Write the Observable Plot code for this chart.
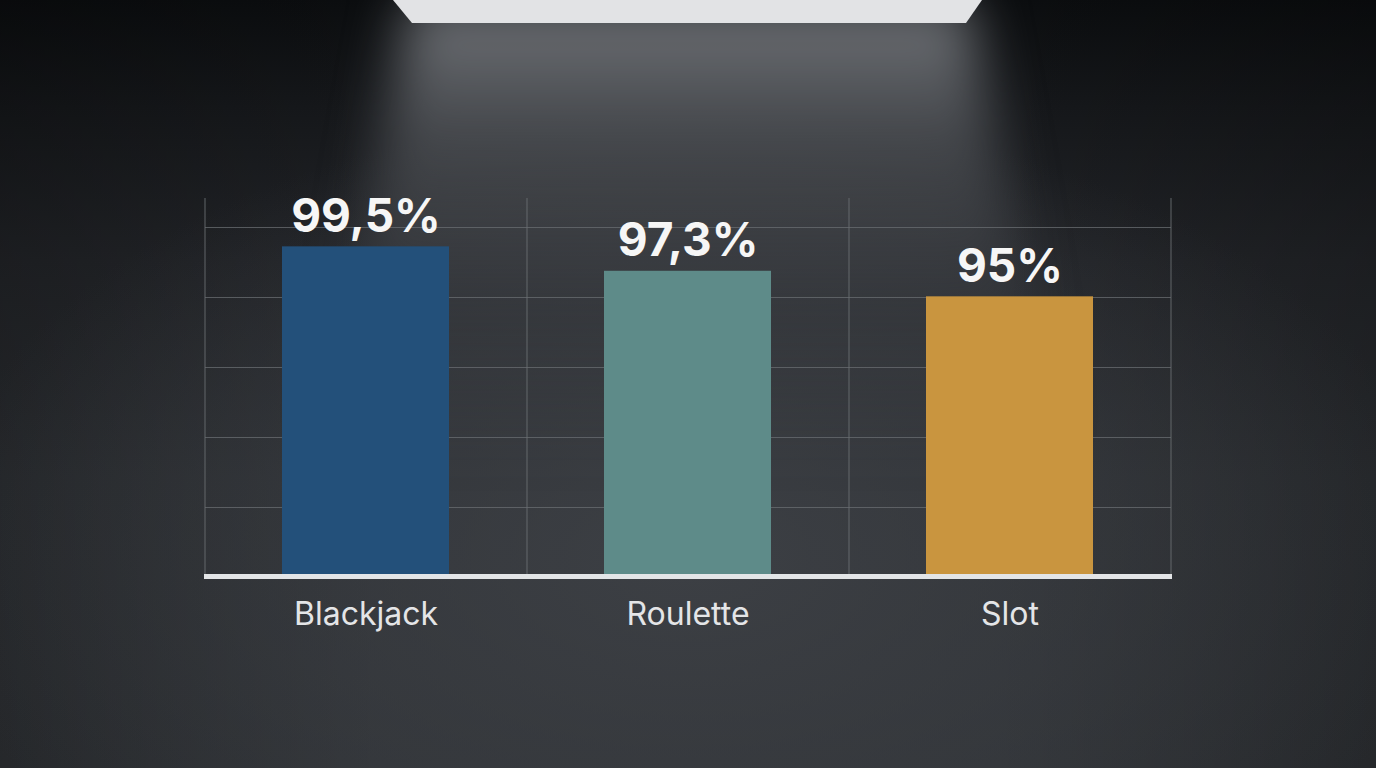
<!DOCTYPE html>
<html>
<head>
<meta charset="utf-8">
<script src="https://cdn.jsdelivr.net/npm/d3@7"></script>
<script src="https://cdn.jsdelivr.net/npm/@observablehq/plot@0.6"></script>
<style>
  html, body { margin: 0; padding: 0; width: 1376px; height: 768px; overflow: hidden; }
  body {
    position: relative;
    font-family: Inter, "Noto Sans", sans-serif;
    background:
      radial-gradient(ellipse 760px 450px at 50% 560px, rgba(62,65,70,0.9), rgba(62,65,70,0) 100%),
      linear-gradient(to right, rgba(0,0,0,0.22), rgba(0,0,0,0) 28%, rgba(0,0,0,0) 72%, rgba(0,0,0,0.22)),
      linear-gradient(#0b0d0f 0%, #16181b 14%, #232529 34%, #2d3034 62%, #303337 100%);
  }
  #glowwrap { position: absolute; left: 0; top: 0; width: 1376px; height: 768px; filter: blur(26px); }
  #glow {
    position: absolute; left: 0; top: 0; width: 1376px; height: 768px;
    background: linear-gradient(rgba(120,123,128,0.95) 0px, rgba(95,98,103,0.6) 140px, rgba(72,75,80,0.28) 300px, rgba(60,63,68,0) 460px);
    clip-path: polygon(410px 0, 968px 0, 1060px 460px, 318px 460px);
  }
  #lamp {
    position: absolute; left: 0; top: 0; width: 1376px; height: 23px;
    background: #e2e3e5;
    clip-path: polygon(393px 0, 982px 0, 966px 23px, 412px 23px);
  }
  #chart { position: absolute; left: 0; top: 0; }
  #chart svg { background: transparent !important; overflow: visible; }
</style>
</head>
<body>
<div id="glowwrap"><div id="glow"></div></div>
<div id="lamp"></div>
<div id="chart"></div>
<script>
// Data
const categories = ["Blackjack", "Roulette", "Slot"];
const values = [99.5, 97.3, 95];
const colors = ["#23507a", "#5e8b89", "#c9953f"];
const gridValues = [76.04, 82.34, 88.64, 94.94, 101.24];
const yDomain = [69.83, 103.85];

const W = 1376, H = 768;
const mL = 205, mR = 205, mT = 198, mB = 192;
const step = (W - mL - mR) / categories.length;

const data = categories.map((c, i) => ({category: c, value: values[i], color: colors[i]}));
const fmt = v => String(v).replace(".", ",") + "%";

const chart = Plot.plot({
  width: W,
  height: H,
  marginLeft: mL,
  marginRight: mR,
  marginTop: mT,
  marginBottom: mB,
  style: {background: "transparent", fontFamily: "Inter, 'Noto Sans', sans-serif"},
  x: {domain: categories, paddingInner: 0.481, paddingOuter: 0.2405, align: 0.5, label: null},
  y: {domain: yDomain, axis: null},
  marks: [
    // horizontal grid
    Plot.ruleY(gridValues, {stroke: "#6a6d72", strokeWidth: 1.2, strokeOpacity: 0.75}),
    // vertical grid at band boundaries
    Plot.ruleX(categories, {x: d => d, dx: -step / 2, y1: yDomain[0], y2: yDomain[1], stroke: "#6a6d72", strokeWidth: 1.2, strokeOpacity: 0.75}),
    Plot.ruleX(categories.slice(-1), {x: d => d, dx: step / 2, y1: yDomain[0], y2: yDomain[1], stroke: "#6a6d72", strokeWidth: 1.2, strokeOpacity: 0.75}),
    // bars
    Plot.barY(data, {x: "category", y1: yDomain[0], y2: "value", fill: "color"}),
    // baseline
    Plot.ruleY([yDomain[0]], {stroke: "#e3e5e7", strokeWidth: 5, insetLeft: -1, insetRight: -1}),
    // value labels
    Plot.text(data, {
      x: "category", y: "value", text: d => fmt(d.value),
      lineAnchor: "bottom", dy: -15,
      fill: "#f6f6f6", fontSize: 46, fontWeight: 700
    }),
    // category axis
    Plot.axisX({tickSize: 0, tickPadding: 26, fontSize: 32, color: "#e4e5e7", label: null})
  ]
});
document.getElementById("chart").append(chart);
</script>
</body>
</html>
